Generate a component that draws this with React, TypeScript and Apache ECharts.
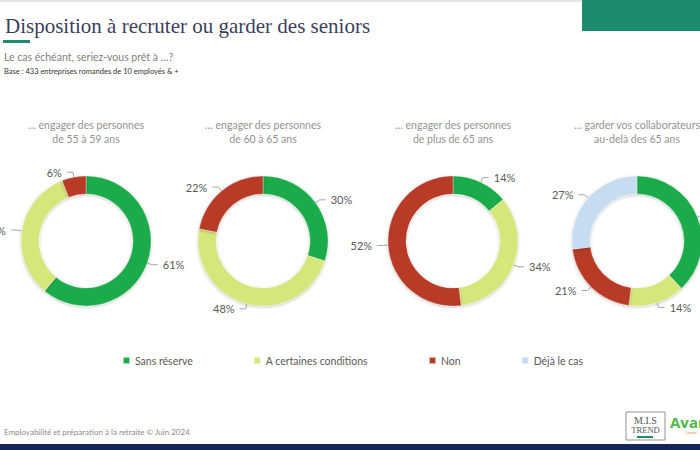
import React, { useEffect, useRef } from "react";
import * as echarts from "echarts";

const categories = ["Sans réserve", "A certaines conditions", "Non", "Déjà le cas"];
const colors = ["#1aab4b", "#d5e67a", "#b83a28", "#c6dcf0"];

const values55to59 = [61, 33, 6, null];
const values60to65 = [30, 48, 22, null];
const valuesOver65 = [14, 34, 52, null];
const valuesKeep65 = [38, 14, 21, 27];

const pieTitles = [
  ["… engager des personnes", "de 55 à 59 ans"],
  ["… engager des personnes", "de 60 à 65 ans"],
  ["… engager des personnes", "de plus de 65 ans"],
  ["… garder vos collaborateurs", "au-delà des 65 ans"],
];

const mainTitle = "Disposition à recruter ou garder des seniors";
const subTitle = "Le cas échéant, seriez-vous prêt à …?";
const baseText = "Base : 433 entreprises romandes de 10 employés & +";
const footerText = "Employabilité et préparation à la retraite © Juin 2024";

const allValues = [values55to59, values60to65, valuesOver65, valuesKeep65];
const centersX = [86, 263, 453, 637];
const centerY = 241;

export default function App() {
  const ref = useRef<HTMLDivElement>(null);
  useEffect(() => {
    if (!ref.current) return;
    const chart = echarts.init(ref.current, null, { renderer: "svg" });
    const font = "Lato, 'Noto Sans', sans-serif";

    const series = allValues.map((vals, i) => ({
      type: "pie",
      name: pieTitles[i].join(" "),
      center: [centersX[i], centerY],
      radius: [47, 65],
      startAngle: 90,
      clockwise: true,
      avoidLabelOverlap: false,
      data: vals
        .map((v, k) => ({
          name: categories[k],
          value: v,
          itemStyle: { color: colors[k] },
        }))
        .filter((d) => d.value !== null),
      itemStyle: {
        borderColor: "rgba(255,255,255,0.6)",
        borderWidth: 0.5,
        shadowBlur: 3,
        shadowOffsetY: 1,
        shadowColor: "rgba(0,0,0,0.25)",
      },
      label: {
        show: true,
        position: "outside",
        formatter: "{c}%",
        fontSize: 11,
        color: "#595959",
        fontFamily: font,
      },
      labelLine: {
        show: true,
        length: 5,
        length2: 6,
        lineStyle: { color: "#a6a6a6", width: 1 },
      },
      emphasis: { disabled: true },
    }));

    const titleTexts: any[] = [];
    pieTitles.forEach((lines, i) => {
      lines.forEach((t, j) => {
        titleTexts.push({
          type: "text",
          x: centersX[i],
          y: 125 + j * 14,
          style: {
            text: t,
            fill: "#939393",
            font: `10.5px ${font}`,
            align: "center",
            verticalAlign: "middle",
          },
        });
      });
    });

    chart.setOption({
      animation: false,
      backgroundColor: "#ffffff",
      legend: {
        data: categories,
        left: 122,
        top: 355,
        padding: 0,
        icon: "rect",
        itemWidth: 7,
        itemHeight: 7,
        itemGap: 60,
        selectedMode: false,
        textStyle: { fontSize: 10.5, color: "#595959", fontFamily: font },
      },
      series,
      graphic: [
        { type: "rect", shape: { x: 0, y: 0, width: 582, height: 2 }, style: { fill: "#e4e4e4" } },
        { type: "rect", shape: { x: 582, y: 0, width: 118, height: 31 }, style: { fill: "#1b8c6e" } },
        {
          type: "text",
          x: 5,
          y: 26,
          style: {
            text: mainTitle,
            fill: "#3b3f5c",
            font: "21px 'Liberation Serif', 'DejaVu Serif', serif",
            verticalAlign: "middle",
          },
        },
        { type: "rect", shape: { x: 3, y: 40, width: 27, height: 3 }, style: { fill: "#1b8c6e" } },
        {
          type: "text",
          x: 4,
          y: 57,
          style: { text: subTitle, fill: "#7f7f7f", font: `10.5px ${font}`, verticalAlign: "middle" },
        },
        {
          type: "text",
          x: 4,
          y: 71,
          style: { text: baseText, fill: "#333333", font: `7.5px ${font}`, verticalAlign: "middle" },
        },
        ...titleTexts,
        {
          type: "text",
          x: 4,
          y: 432,
          style: { text: footerText, fill: "#8a8a8a", font: `8px ${font}`, verticalAlign: "middle" },
        },
        { type: "rect", shape: { x: 0, y: 444, width: 700, height: 6 }, style: { fill: "#15275a" } },
        {
          type: "rect",
          shape: { x: 626, y: 412, width: 39, height: 28 },
          style: { fill: "#ffffff", stroke: "#777777", lineWidth: 0.8 },
        },
        {
          type: "text",
          x: 645.5,
          y: 420,
          style: {
            text: "M.I.S",
            fill: "#555555",
            font: "10px 'Liberation Serif', serif",
            align: "center",
            verticalAlign: "middle",
          },
        },
        {
          type: "text",
          x: 645.5,
          y: 430,
          style: {
            text: "TREND",
            fill: "#555555",
            font: "8.5px 'Liberation Serif', serif",
            align: "center",
            verticalAlign: "middle",
          },
        },
        { type: "rect", shape: { x: 637, y: 436, width: 16, height: 2 }, style: { fill: "#1b8c6e" } },
        {
          type: "text",
          x: 670,
          y: 422,
          style: {
            text: "Avant",
            fill: "#4cb848",
            font: "bold 15px 'Open Sans', sans-serif",
            verticalAlign: "middle",
          },
        },
        {
          type: "text",
          x: 685,
          y: 433,
          style: { text: "Conseil", fill: "#e08a3a", font: "3.5px sans-serif", verticalAlign: "middle" },
        },
      ],
    });
    return () => chart.dispose();
  }, []);

  return (
    <div
      ref={ref}
      style={{ position: "absolute", left: 0, top: 0, width: 700, height: 450 }}
    />
  );
}
